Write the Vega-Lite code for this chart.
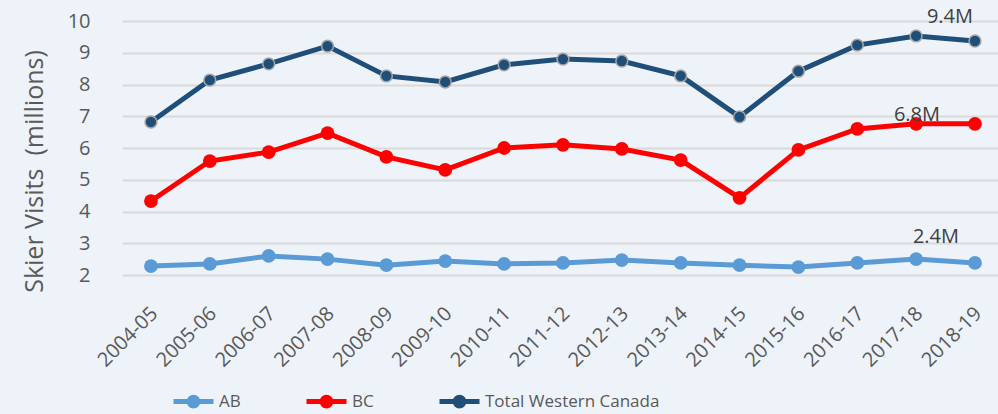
{
  "$schema": "https://vega.github.io/schema/vega-lite/v6.json",
  "autosize": {"type": "none"},
  "padding": {"left": 122, "top": 21, "right": 0, "bottom": 139},
  "width": 876,
  "height": 254,
  "background": "#eef3fa",
  "config": {"view": {"stroke": null}, "font": "Open Sans"},
  "data": {"values": [
    {"season": "2004-05", "series": "Total Western Canada", "value": 6.82},
    {"season": "2005-06", "series": "Total Western Canada", "value": 8.14},
    {"season": "2006-07", "series": "Total Western Canada", "value": 8.65},
    {"season": "2007-08", "series": "Total Western Canada", "value": 9.21},
    {"season": "2008-09", "series": "Total Western Canada", "value": 8.27},
    {"season": "2009-10", "series": "Total Western Canada", "value": 8.08},
    {"season": "2010-11", "series": "Total Western Canada", "value": 8.62},
    {"season": "2011-12", "series": "Total Western Canada", "value": 8.80},
    {"season": "2012-13", "series": "Total Western Canada", "value": 8.74},
    {"season": "2013-14", "series": "Total Western Canada", "value": 8.27},
    {"season": "2014-15", "series": "Total Western Canada", "value": 6.98},
    {"season": "2015-16", "series": "Total Western Canada", "value": 8.42},
    {"season": "2016-17", "series": "Total Western Canada", "value": 9.24},
    {"season": "2017-18", "series": "Total Western Canada", "value": 9.53},
    {"season": "2018-19", "series": "Total Western Canada", "value": 9.37},
    {"season": "2004-05", "series": "BC", "value": 4.33},
    {"season": "2005-06", "series": "BC", "value": 5.59},
    {"season": "2006-07", "series": "BC", "value": 5.87},
    {"season": "2007-08", "series": "BC", "value": 6.47},
    {"season": "2008-09", "series": "BC", "value": 5.72},
    {"season": "2009-10", "series": "BC", "value": 5.31},
    {"season": "2010-11", "series": "BC", "value": 6.00},
    {"season": "2011-12", "series": "BC", "value": 6.10},
    {"season": "2012-13", "series": "BC", "value": 5.97},
    {"season": "2013-14", "series": "BC", "value": 5.62},
    {"season": "2014-15", "series": "BC", "value": 4.43},
    {"season": "2015-16", "series": "BC", "value": 5.94},
    {"season": "2016-17", "series": "BC", "value": 6.60},
    {"season": "2017-18", "series": "BC", "value": 6.76},
    {"season": "2018-19", "series": "BC", "value": 6.76},
    {"season": "2004-05", "series": "AB", "value": 2.28},
    {"season": "2005-06", "series": "AB", "value": 2.35},
    {"season": "2006-07", "series": "AB", "value": 2.60},
    {"season": "2007-08", "series": "AB", "value": 2.50},
    {"season": "2008-09", "series": "AB", "value": 2.31},
    {"season": "2009-10", "series": "AB", "value": 2.44},
    {"season": "2010-11", "series": "AB", "value": 2.35},
    {"season": "2011-12", "series": "AB", "value": 2.38},
    {"season": "2012-13", "series": "AB", "value": 2.47},
    {"season": "2013-14", "series": "AB", "value": 2.38},
    {"season": "2014-15", "series": "AB", "value": 2.31},
    {"season": "2015-16", "series": "AB", "value": 2.25},
    {"season": "2016-17", "series": "AB", "value": 2.38},
    {"season": "2017-18", "series": "AB", "value": 2.50},
    {"season": "2018-19", "series": "AB", "value": 2.38}
  ]},
  "encoding": {
    "x": {
      "field": "season", "type": "ordinal",
      "scale": {"type": "point", "padding": 0.4415, "align": 0.557},
      "axis": {
        "title": null, "domain": false, "ticks": false, "grid": false,
        "labelAngle": -45, "labelAlign": "right", "labelBaseline": "top",
        "labelPadding": 28, "labelOffset": -4, "labelFontSize": 20, "labelColor": "#595959", "labelFont": "Open Sans"
      }
    },
    "y": {
      "field": "value", "type": "quantitative",
      "scale": {"domain": [2, 10], "nice": false, "zero": false},
      "axis": {
        "title": "Skier Visits \u00a0(millions)",
        "titleFontSize": 25, "titleFontWeight": "normal", "titleColor": "#595959", "titleFont": "Open Sans",
        "titleX": -88, "titleY": 150, "titleAngle": -90, "titleAlign": "center", "titleBaseline": "middle",
        "values": [2, 3, 4, 5, 6, 7, 8, 9, 10],
        "domain": false, "ticks": false,
        "gridColor": "#d9d9d9", "gridWidth": 2,
        "labelFontSize": 20, "labelColor": "#595959", "labelPadding": 32, "labelFont": "Open Sans"
      }
    }
  },
  "layer": [
    {
      "mark": {"type": "line", "strokeWidth": 5},
      "encoding": {
        "color": {
          "field": "series", "type": "nominal",
          "scale": {"domain": ["AB", "BC", "Total Western Canada"], "range": ["#5b9bd5", "#ff0000", "#1f4e79"]},
          "legend": {
            "title": null, "orient": "none", "direction": "horizontal",
            "legendX": 49, "legendY": 358, "padding": 0,
            "symbolType": "M-1,0H1M-0.22,0A0.22,0.22,0,1,0,0.22,0A0.22,0.22,0,1,0,-0.22,0Z",
            "symbolSize": 1600, "symbolStrokeWidth": 5,
            "labelFontSize": 17, "labelColor": "#595959", "labelFont": "Open Sans", "labelOffset": 3,
            "labelLimit": 400,
            "columnPadding": 55,
            "encode": {"symbols": {"update": {
              "fill": {"scale": "color", "field": "value"},
              "stroke": {"scale": "color", "field": "value"},
              "strokeWidth": {"value": 5},
              "opacity": {"value": 1}
            }}}
          }
        }
      }
    },
    {
      "transform": [{"filter": "datum.series !== 'Total Western Canada'"}],
      "mark": {"type": "point", "filled": true, "opacity": 1, "size": 190},
      "encoding": {"color": {"field": "series", "type": "nominal"}}
    },
    {
      "transform": [{"filter": "datum.series === 'Total Western Canada'"}],
      "mark": {"type": "point", "filled": true, "opacity": 1, "size": 140, "stroke": "#a6a6a6", "strokeWidth": 1.5},
      "encoding": {"color": {"field": "series", "type": "nominal"}}
    },
    {
      "transform": [{"filter": "datum.series === 'Total Western Canada' && datum.season === '2018-19'"}],
      "mark": {"type": "text", "text": "9.4M", "dx": -25, "dy": -24, "fontSize": 20, "color": "#404040", "font": "Open Sans"}
    },
    {
      "transform": [{"filter": "datum.series === 'BC' && datum.season === '2018-19'"}],
      "mark": {"type": "text", "text": "6.8M", "dx": -58, "dy": -9, "fontSize": 20, "color": "#404040", "font": "Open Sans"}
    },
    {
      "transform": [{"filter": "datum.series === 'AB' && datum.season === '2018-19'"}],
      "mark": {"type": "text", "text": "2.4M", "dx": -39, "dy": -26, "fontSize": 20, "color": "#404040", "font": "Open Sans"}
    }
  ]
}
